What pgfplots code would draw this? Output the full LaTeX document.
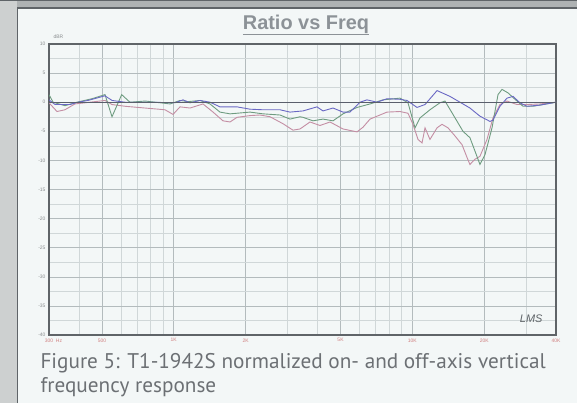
\documentclass[border=0pt]{standalone}
\usepackage{pgfplots}
\pgfplotsset{compat=1.18}
\usepackage{fontspec}
\setmainfont{Liberation Sans}
\newfontfamily\capfont{PT Sans}

\definecolor{pagebg}{HTML}{F3F7F7}
\definecolor{stripgray}{HTML}{CDD0D0}
\definecolor{topgray}{HTML}{AEB2B3}
\definecolor{framedark}{HTML}{5F6468}
\definecolor{gridmajor}{HTML}{B3BBBD}
\definecolor{gridminor}{HTML}{D0D7D8}
\definecolor{titlegray}{HTML}{8C9297}
\definecolor{capgray}{HTML}{6C7074}
\definecolor{tickred}{HTML}{D08080}
\definecolor{tickgray}{HTML}{8A8E90}
\definecolor{cblue}{HTML}{6A68C4}
\definecolor{cgreen}{HTML}{6E9C80}
\definecolor{cpink}{HTML}{C48EA4}
\definecolor{zeroline}{HTML}{5A5F6C}

\begin{document}
\begin{tikzpicture}[x=1bp,y=1bp]
\useasboundingbox (0,0) rectangle (577,403);
\fill[pagebg] (0,0) rectangle (577,403);
\fill[stripgray] (0,0) rectangle (17,403);
\fill[topgray] (17,395) rectangle (577,403);
\draw[framedark, line width=1.5bp] (17.5,0) -- (17.5,395);
\draw[framedark, line width=1.2bp] (17,395) -- (577,395);
\draw[framedark, line width=1bp] (0,402.5) -- (577,402.5);

\node[text=titlegray, font=\bfseries\fontsize{20}{22}\selectfont] at (306,378) {\underline{Ratio vs Freq}};
\node[text=tickgray, font=\fontsize{5}{6}\selectfont, anchor=west] at (50,366) {dBR};

\begin{axis}[
  at={(49bp,68bp)}, anchor=south west,
  scale only axis, width=507bp, height=291bp,
  xmode=log, xmin=300, xmax=40000, ymin=-40, ymax=10,
  xtick={300,500,1000,2000,5000,10000,20000,40000},
  xticklabels={300\rlap{\ \ Hz},500,1K,2K,5K,10K,20K,40K},
  minor xtick={400,600,700,800,900,3000,4000,6000,7000,8000,9000,30000},
  ytick={-40,-35,...,10},
  minor ytick={-37.5,-32.5,...,7.5},
  grid=both,
  major grid style={gridmajor, line width=0.6bp},
  minor grid style={gridminor, line width=0.5bp},
  tick style={draw=none},
  axis line style={framedark, line width=1.2bp},
  axis background/.style={fill=pagebg},
  /pgf/number format/assume math mode=true,
  xticklabel style={font=\fontsize{5}{6}\selectfont, text=tickred},
  yticklabel style={font=\fontsize{5}{6}\selectfont, text=tickgray},
  every axis plot/.append style={line width=0.9bp},
]
% pink
\addplot[cpink, no markers] coordinates {
(300,-0.1)(324,-1.6)(350,-1.3)(385,-0.3)(425,-0.1)(515,0.3)(551,-0.4)(625,-0.7)(758,-1.0)(919,-1.3)(993,-2.1)(1062,-0.8)(1170,-1.0)(1326,-0.3)(1461,-1.7)(1608,-3.2)(1721,-3.4)(1841,-2.6)(2087,-2.3)(2299,-2.2)(2532,-2.5)(2870,-3.7)(3159,-4.8)(3381,-4.6)(3724,-3.4)(4100,-4.0)(4518,-3.4)(5121,-4.6)(5862,-5.1)(6210,-4.3)(6646,-2.9)(7830,-1.7)(8874,-1.6)(9588,-1.9)(10060,-3.8)(10560,-6.4)(10980,-7.0)(11300,-4.4)(11850,-6.4)(12690,-4.4)(13310,-3.8)(14100,-4.4)(15090,-5.8)(16150,-7.3)(16950,-9.5)(17430,-10.7)(18300,-9.8)(19200,-9.3)(20550,-6.4)(21770,-2.7)(23290,-0.4)(24930,0.2)(27450,-0.4)(30230,-0.4)(34260,-0.3)(40000,0)};
% green
\addplot[cgreen, no markers] coordinates {
(300,1.3)(312,0)(350,-0.6)(393,0)(454,0.6)(515,1.3)(551,-2.5)(605,1.3)(655,0)(760,0.2)(965,-0.3)(1062,0.3)(1147,0.1)(1289,0.3)(1419,-0.3)(1562,-1.7)(1721,-2.0)(2087,-1.7)(2366,-2.0)(2788,-2.2)(3070,-2.9)(3381,-2.5)(3480,-2.6)(3834,-3.2)(4221,-2.9)(4650,-3.2)(5121,-2.0)(5862,-0.9)(6646,-0.3)(7533,0.4)(8874,0.7)(9588,-0.1)(10260,-4.4)(10763,-2.7)(11850,-1.3)(13050,-0.1)(13700,0.2)(14800,-2.1)(16300,-5.0)(17430,-6.1)(18300,-8.4)(19200,-10.7)(20160,-9.0)(21570,-4.4)(22850,1.3)(23750,2.2)(25170,1.6)(26920,0.5)(29090,-0.7)(32040,-0.7)(35280,-0.4)(40000,0)};
% blue
\addplot[cblue, no markers] coordinates {
(300,0.4)(318,-0.4)(367,-0.4)(397,0)(437,0.3)(515,1.1)(551,0.3)(625,0)(795,0)(1012,-0.1)(1093,0.4)(1170,-0.1)(1289,0.3)(1419,0)(1562,-0.8)(1841,-0.8)(2087,-1.2)(2366,-1.3)(2788,-1.3)(3070,-1.7)(3480,-1.5)(3985,-0.8)(4221,-1.5)(4650,-1.0)(5121,-1.7)(5477,-1.7)(6034,0)(6456,0.4)(7110,0)(7830,0.6)(8874,0.5)(9496,0.3)(10460,-0.9)(11300,-0.4)(12690,2.0)(14370,1.0)(15830,0)(17430,-1.0)(19200,-2.4)(21150,-3.3)(21770,-3.1)(23290,-0.7)(24930,0.7)(26410,1.0)(28250,-0.1)(30230,-0.7)(34260,-0.5)(40000,0)};
% on-axis reference
\addplot[zeroline, no markers, line width=1.4bp] coordinates {(300,0)(40000,0)};
\node[text=framedark, font=\itshape\fontsize{11}{12}\selectfont] at (axis cs:31500,-37.2) {LMS};
\end{axis}

\node[text=capgray, font=\capfont\fontsize{21.3}{25}\selectfont, anchor=base west] at (37,35) {Figure 5: T1-1942S normalized on- and off-axis vertical};
\node[text=capgray, font=\capfont\fontsize{21.3}{25}\selectfont, anchor=base west] at (37,11) {frequency response};
\end{tikzpicture}
\end{document}
